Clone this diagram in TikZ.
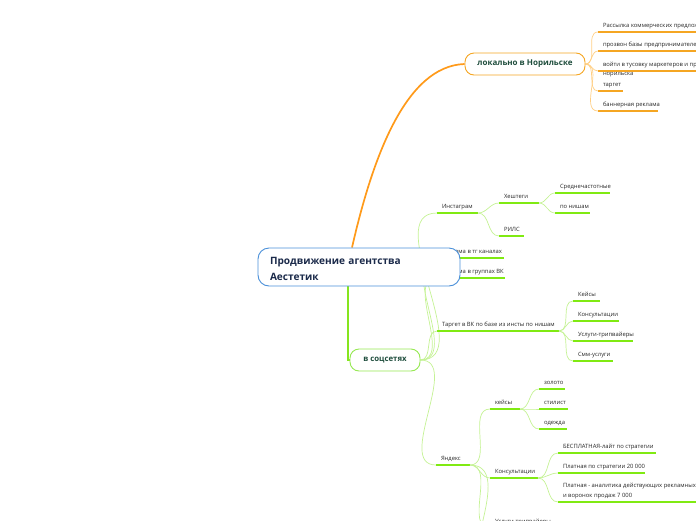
\documentclass[tikz,border=0pt]{standalone}
\usepackage{fontspec}
\setmainfont{Open Sans}
\pgfdeclarelayer{bg}
\pgfsetlayers{bg,main}
\definecolor{orM}{HTML}{FF9A1A}
\definecolor{orU}{HTML}{F5A623}
\definecolor{orL}{HTML}{FFCF85}
\definecolor{grU}{HTML}{80EA12}
\definecolor{grL}{HTML}{C4F294}
\definecolor{grM}{HTML}{86E51E}
\definecolor{grB}{HTML}{96E852}
\definecolor{blB}{HTML}{4A90D9}
\definecolor{navy}{HTML}{1B2A4A}
\definecolor{dgreen}{HTML}{1E4D3C}
\definecolor{txt}{HTML}{262626}
\tikzset{
  leaf/.style={anchor=south west, font=\fontsize{5.85}{7}\selectfont, text=txt,
    inner xsep=5pt, inner ysep=3.3pt, outer sep=0pt, text height=4.4pt, text depth=1.4pt},
  ulO/.style={draw=orU, line width=1.4pt},
  ulG/.style={draw=grU, line width=1.4pt},
  brO/.style={draw=orL, line width=0.7pt},
  brG/.style={draw=grL, line width=0.7pt},
  mainbox/.style={fill=white, line width=0.9pt, rounded corners=9pt, font=\bfseries},
}
\begin{document}
\begin{tikzpicture}[x=1pt,y=-1pt]
\useasboundingbox (0,0) rectangle (696,520);
% main nodes
\node[mainbox, draw=blB, rounded corners=11pt, minimum width=202pt, minimum height=38pt,
  text width=178pt, inner xsep=12pt, align=left, text=navy,
  font=\fontsize{10.1}{15.5}\selectfont\bfseries] (cent) at (359,267) {\rule{0pt}{11.5pt}Продвижение агентства\\Аестетик};
\node[mainbox, draw=orU, minimum width=120pt, minimum height=22pt, text=dgreen,
  font=\fontsize{8}{9}\selectfont\bfseries] (loc) at (525,64) {локально в Норильске};
\node[mainbox, draw=grB, minimum width=70pt, minimum height=22pt, text=dgreen,
  font=\fontsize{7.8}{9}\selectfont\bfseries] (soc) at (385,360) {в соцсетях};

\begin{pgfonlayer}{bg}
\clip (0,0) rectangle (696,520);
% ---- local branch
\node[leaf] (o1) at (598,32) {Рассылка коммерческих предложений};
\node[leaf] (o2) at (598,51) {прозвон базы предпринимателей};
\node[leaf] (o3) at (598,71) {войти в тусовку маркетеров и предпринимателей};
\node[leaf, anchor=base west, inner sep=0pt] (o3b) at (603,75.5) {норильска};
\node[leaf] (o4) at (598,91) {таргет};
\node[leaf] (o5) at (598,111) {баннерная реклама};
\foreach \n/\l in {o1/110,o2/110,o3/110,o4/25,o5/60} {
  \draw[ulO] (\n.south west) -- ++(\l,0) coordinate (\n-e);
  \draw[brO] (loc.east) to[out=0,in=180] (\n.south west);
}
\draw[draw=orM, line width=1.7pt] ([xshift=-7pt]cent.north) .. controls (372,160) and (405,66) .. (loc.west);

% ---- social branch
\draw[draw=grM, line width=1.5pt] ([xshift=-11pt]cent.south) |- (soc.west);
\node[leaf] (ig) at (437,213) {Инстаграм};
\node[leaf] (tg) at (437,258) {Реклама в тг каналах};
\node[leaf] (vk) at (437,278) {Реклама в группах ВК};
\node[leaf] (tv) at (437,331) {Таргет в ВК по базе из инсты по нишам};
\node[leaf] (ya) at (436,465) {Яндекс};
\foreach \n/\l in {ig/41,tg/67,vk/68,tv/122,ya/34} {
  \draw[ulG] (\n.south west) -- ++(\l,0) coordinate (\n-e);
  \draw[brG] (soc.east) to[out=0,in=180] (\n.south west);
}
% instagram
\node[leaf] (ht) at (499,203) {Хештеги};
\node[leaf] (rl) at (499,236) {РИЛС};
\foreach \n/\l in {ht/40,rl/25} {
  \draw[ulG] (\n.south west) -- ++(\l,0) coordinate (\n-e);
  \draw[brG] (ig-e) to[out=0,in=180] (\n.south west);
}
\node[leaf] (sc) at (555,193) {Среднечастотные};
\node[leaf] (pn) at (555,213) {по нишам};
\foreach \n/\l in {sc/55,pn/35} {
  \draw[ulG] (\n.south west) -- ++(\l,0) coordinate (\n-e);
  \draw[brG] (ht-e) to[out=0,in=180] (\n.south west);
}
% target
\node[leaf] (t1) at (573,301) {Кейсы};
\node[leaf] (t2) at (573,321) {Консультации};
\node[leaf] (t3) at (573,341) {Услуги-трипвайеры};
\node[leaf] (t4) at (573,361) {Смм-услуги};
\foreach \n/\l in {t1/27,t2/46,t3/60,t4/40} {
  \draw[ulG] (\n.south west) -- ++(\l,0) coordinate (\n-e);
  \draw[brG] (tv-e) to[out=0,in=180] (\n.south west);
}
% yandex
\node[leaf] (y1) at (490,409) {кейсы};
\node[leaf] (y2) at (490,478) {Консультации};
\node[leaf] (y3) at (490,528) {Услуги-трипвайеры};
\coordinate (y4) at (490,600);
\foreach \n/\l in {y1/30,y2/48,y3/62} {
  \draw[ulG] (\n.south west) -- ++(\l,0) coordinate (\n-e);
  \draw[brG] (ya-e) to[out=0,in=180] (\n.south west);
}
\draw[brG] (ya-e) to[out=0,in=180] (y4);
\node[leaf] (k1) at (539,389) {золото};
\node[leaf] (k2) at (539,409) {стилист};
\node[leaf] (k3) at (539,429) {одежда};
\foreach \n/\l in {k1/26,k2/29,k3/28} {
  \draw[ulG] (\n.south west) -- ++(\l,0) coordinate (\n-e);
  \draw[brG] (y1-e) to[out=0,in=180] (\n.south west);
}
\node[leaf] (c1) at (558,453) {БЕСПЛАТНАЯ-лайт по стратегии};
\node[leaf] (c2) at (558,473) {Платная по стратегии 20 000};
\node[leaf, align=left, font=\fontsize{5.85}{9.5}\selectfont] (c3) at (558,502) {Платная - аналитика действующих рекламных\\и воронок продаж 7 000};
\foreach \n/\l in {c1/98,c2/87,c3/140} {
  \draw[ulG] (\n.south west) -- ++(\l,0) coordinate (\n-e);
  \draw[brG] (y2-e) to[out=0,in=180] (\n.south west);
}
\end{pgfonlayer}
\end{tikzpicture}
\end{document}
